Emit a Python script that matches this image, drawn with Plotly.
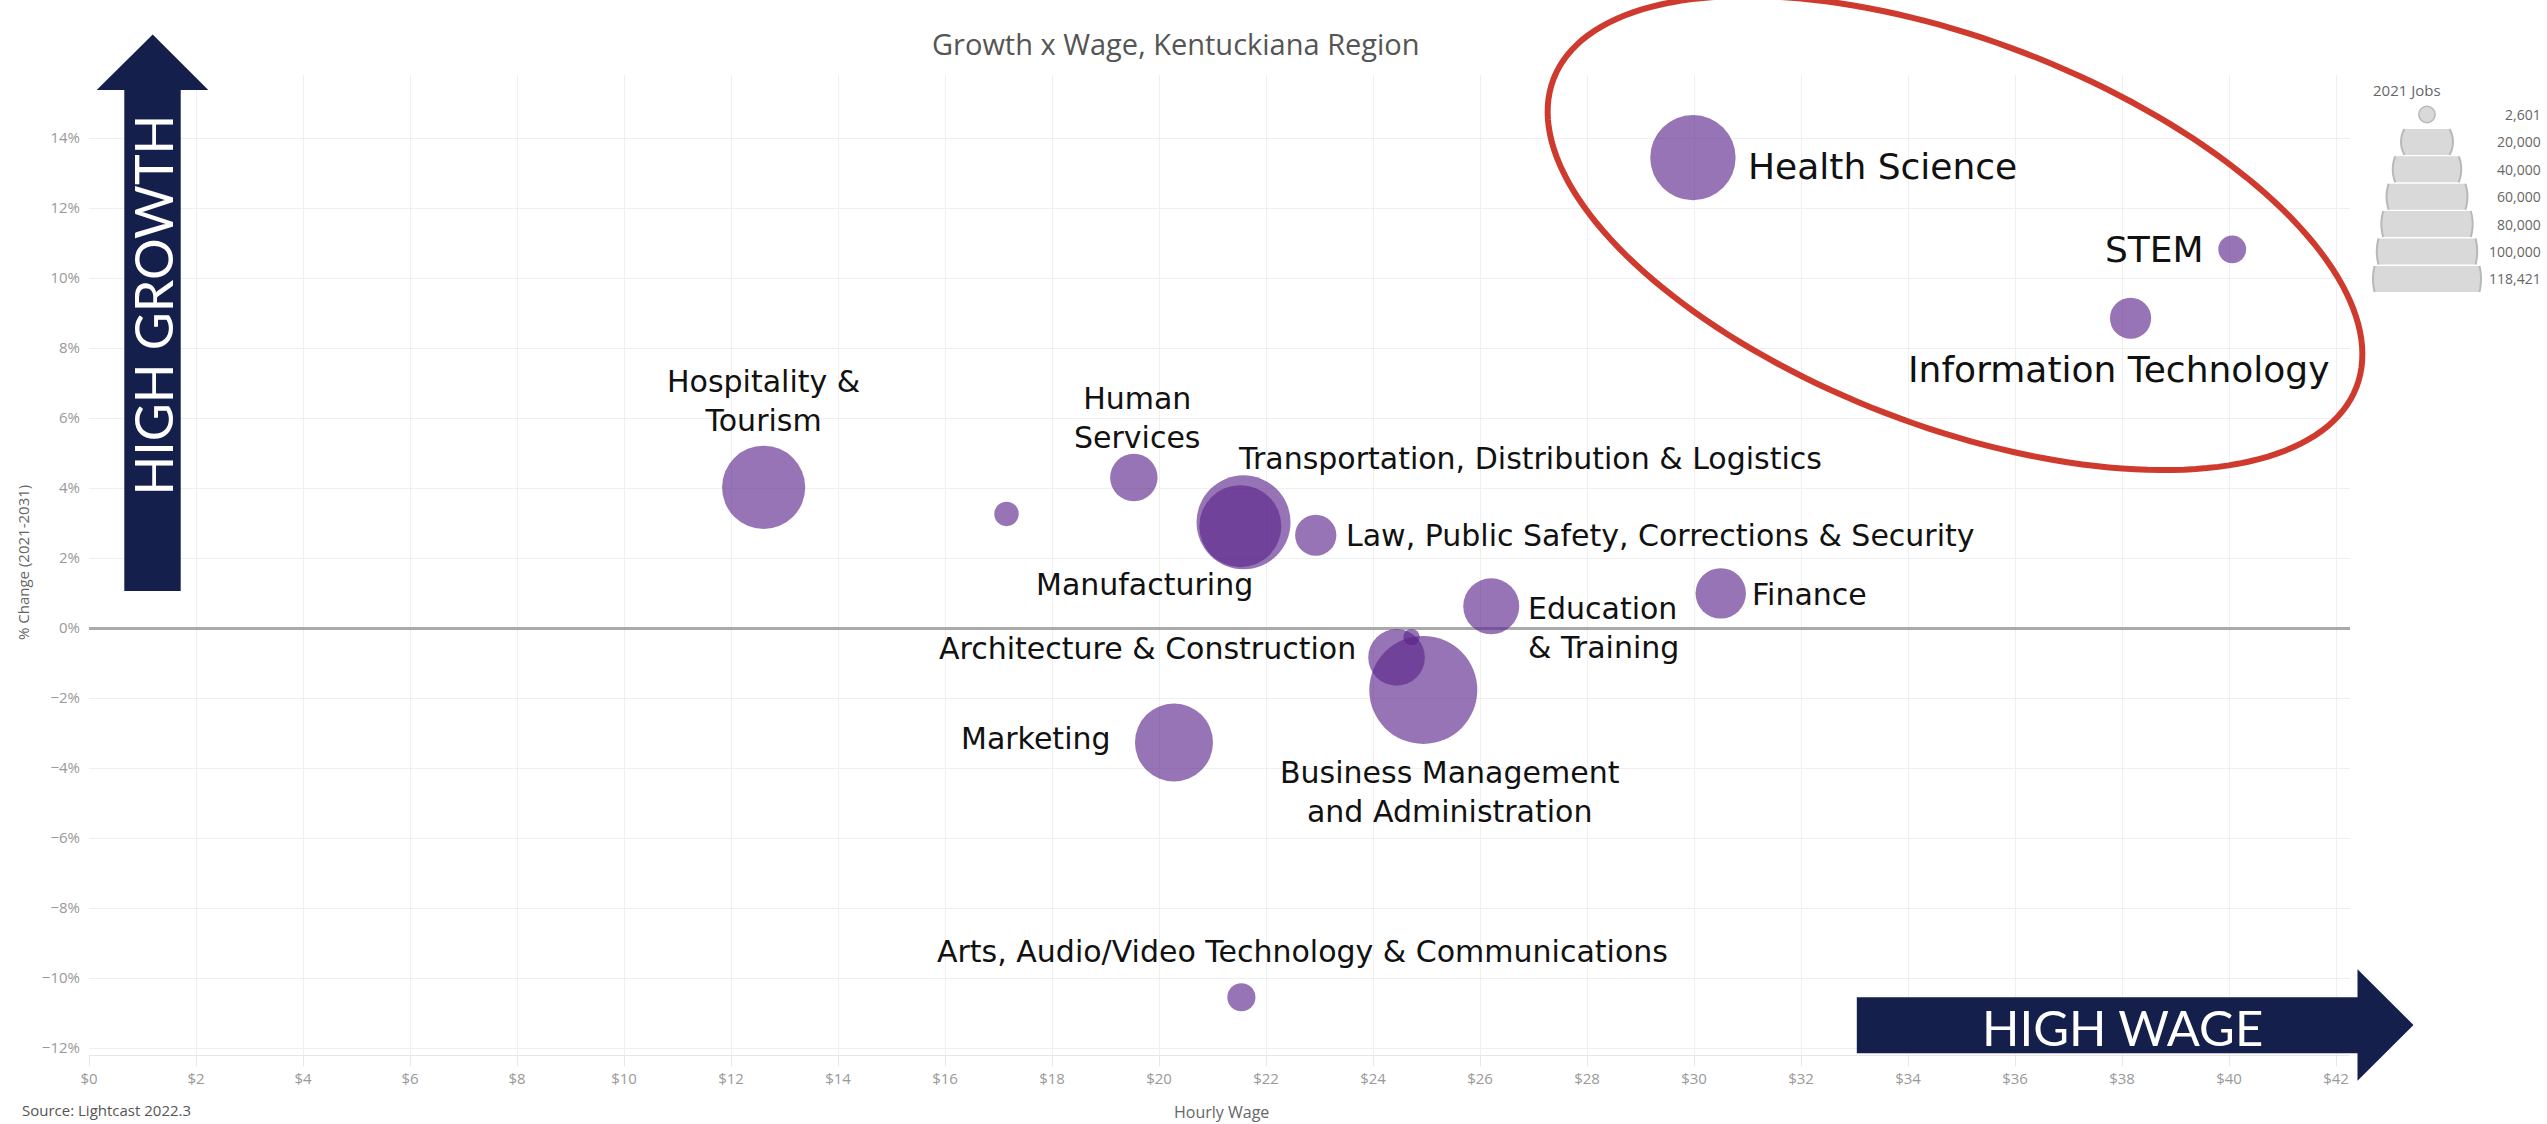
import numpy as np
import plotly.graph_objects as go

# ---------------- data ----------------
clusters = [
    "Health Science", "STEM", "Information Technology", "Hospitality & Tourism",
    "Agriculture, Food & Natural Resources", "Human Services",
    "Transportation, Distribution & Logistics", "Manufacturing",
    "Law, Public Safety, Corrections & Security", "Education & Training", "Finance",
    "Architecture & Construction", "Government & Public Administration",
    "Business Management and Administration", "Marketing",
    "Arts, Audio/Video Technology & Communications",
]
hourly_wage = [29.98, 40.06, 38.16, 12.61, 17.15, 19.53, 21.58, 21.52, 22.93,
               26.21, 30.50, 24.44, 24.72, 24.94, 20.28, 21.54]
pct_change = [13.44, 10.82, 8.85, 4.02, 3.26, 4.30, 3.02, 2.91, 2.65,
              0.62, 0.99, -0.84, -0.26, -1.77, -3.27, -10.55]
jobs_2021 = [68300, 4400, 11100, 64200, 3500, 15900, 85700, 62000, 11100,
             24200, 18600, 24900, 2601, 118421, 55000, 4500]

legend_values = [2601, 20000, 40000, 60000, 80000, 100000, 118421]
x_ticks = list(range(0, 43, 2))
x_tick_text = [f"${v}" for v in x_ticks]

# ---------------- label styling (offsets in px from bubble centre) ----------------
LBL_FONT = "DejaVu Sans"
BIG, SMALL = 36, 30
label_style = {
    "Health Science": dict(text="Health Science", xanchor="left", xs=53, ys=-9, size=BIG),
    "STEM": dict(text="STEM", xanchor="right", xs=-26, ys=0, size=BIG),
    "Information Technology": dict(text="Information Technology", xanchor="center", xs=-12, ys=-51, size=BIG),
    "Hospitality & Tourism": dict(text="Hospitality &<br>Tourism", xanchor="center", xs=0, ys=86, size=SMALL),
    "Human Services": dict(text="Human<br>Services", xanchor="center", xs=4, ys=60, size=SMALL),
    "Transportation, Distribution & Logistics": dict(text="Transportation, Distribution & Logistics", xanchor="left", xs=-8, ys=64, size=SMALL),
    "Manufacturing": dict(text="Manufacturing", xanchor="center", xs=-96, ys=-58, size=SMALL),
    "Law, Public Safety, Corrections & Security": dict(text="Law, Public Safety, Corrections & Security", xanchor="left", xs=28, ys=0, size=SMALL),
    "Education & Training": dict(text="Education<br>& Training", xanchor="left", xs=35, ys=-22, size=SMALL, align="left"),
    "Finance": dict(text="Finance", xanchor="left", xs=29, ys=-1, size=SMALL),
    "Architecture & Construction": dict(text="Architecture & Construction", xanchor="right", xs=-39, ys=9, size=SMALL),
    "Business Management and Administration": dict(text="Business Management<br>and Administration", xanchor="center", xs=27, ys=-102, size=SMALL),
    "Marketing": dict(text="Marketing", xanchor="right", xs=-61, ys=4, size=SMALL),
    "Arts, Audio/Video Technology & Communications": dict(text="Arts, Audio/Video Technology & Communications", xanchor="center", xs=61, ys=46, size=SMALL),
}

# ---------------- geometry ----------------
W, H = 2547, 1124
ML, MR, MT, MB = 89, 197, 75, 69
PW, PH = W - ML - MR, H - MT - MB
X_MAX = PW / 53.5
Y_MIN, Y_MAX = -12.2, -12.2 + PH / 35.0


def px(x):
    return (x - ML) / PW


def py(y):
    return (H - MB - y) / PH


MIN_D, MAX_D = 16.4, 108.0
zmin, zmax = min(jobs_2021), max(jobs_2021)


def diam(z):
    return MIN_D + (MAX_D - MIN_D) * np.sqrt((z - zmin) / (zmax - zmin))


sizes = [diam(z) for z in jobs_2021]

fig = go.Figure()
fig.add_trace(go.Scatter(
    x=hourly_wage, y=pct_change, mode="markers", text=clusters,
    marker=dict(size=sizes, sizemode="diameter", color="rgb(90,37,140)",
                opacity=0.64, line=dict(width=0)),
    hovertemplate="%{text}<br>$%{x:.2f}<br>%{y:.1f}%<extra></extra>",
))

annotations = []
for name, xv, yv in zip(clusters, hourly_wage, pct_change):
    if name not in label_style:
        continue
    s = label_style[name]
    annotations.append(dict(
        x=xv, y=yv, xref="x", yref="y", text=s["text"], showarrow=False,
        xanchor=s["xanchor"], yanchor="middle", xshift=s["xs"], yshift=s["ys"],
        align=s.get("align", "center"),
        font=dict(family=LBL_FONT, size=s["size"], color="#111111"),
    ))

# title, axis titles, source
annotations += [
    dict(x=px(1176), y=py(43), xref="paper", yref="paper", text="Growth x Wage, Kentuckiana Region",
         showarrow=False, font=dict(family="Open Sans", size=29, color="#555555"),
         xanchor="center", yanchor="middle"),
    dict(x=px(23), y=py(563), xref="paper", yref="paper", text="% Change (2021-2031)",
         showarrow=False, textangle=-90, font=dict(family="Open Sans", size=15, color="#666666"),
         xanchor="center", yanchor="middle"),
    dict(x=px(1221), y=py(1112), xref="paper", yref="paper", text="Hourly Wage",
         showarrow=False, font=dict(family="Open Sans", size=16, color="#666666"),
         xanchor="center", yanchor="middle"),
    dict(x=px(20), y=py(1110), xref="paper", yref="paper", text="Source: Lightcast 2022.3",
         showarrow=False, font=dict(family="Open Sans", size=15, color="#555555"),
         xanchor="left", yanchor="middle"),
]

shapes = []
NAVY = "#151f4b"


def poly(points):
    return "M " + " L ".join(f"{px(a):.5f},{py(b):.5f}" for a, b in points) + " Z"


# HIGH GROWTH arrow
growth_arrow = [(124.3, 591), (124.3, 90), (96.7, 90), (152.7, 34.5), (208.3, 90), (180.7, 90), (180.7, 591)]
shapes.append(dict(type="path", xref="paper", yref="paper", path=poly(growth_arrow),
                   fillcolor=NAVY, line=dict(width=0), layer="above"))
annotations.append(dict(x=px(152.5), y=py(305), xref="paper", yref="paper", text="HIGH GROWTH",
                        showarrow=False, textangle=-90, xanchor="center", yanchor="middle",
                        font=dict(family="Lato", size=52, color="white")))
# HIGH WAGE arrow
wage_arrow = [(1856.8, 997.3), (2357.5, 997.3), (2357.5, 969.3), (2413.5, 1025), (2357.5, 1080.7), (2357.5, 1053.3), (1856.8, 1053.3)]
shapes.append(dict(type="path", xref="paper", yref="paper", path=poly(wage_arrow),
                   fillcolor=NAVY, line=dict(width=0), layer="above"))
annotations.append(dict(x=px(2122), y=py(1027), xref="paper", yref="paper", text="HIGH WAGE",
                        showarrow=False, xanchor="center", yanchor="middle",
                        font=dict(family="Lato", size=49, color="white")))

# red highlight ellipse
cx, cy, ea, eb, th = 1955, 233, 430, 193, np.radians(21)
t = np.linspace(0, 2 * np.pi, 181)
ex = cx + ea * np.cos(t) * np.cos(th) - eb * np.sin(t) * np.sin(th)
ey = cy + ea * np.cos(t) * np.sin(th) + eb * np.sin(t) * np.cos(th)
shapes.append(dict(type="path", xref="paper", yref="paper",
                   path=poly(list(zip(ex, ey))), line=dict(color="#cf3a2e", width=6),
                   fillcolor="rgba(0,0,0,0)", layer="above"))

# bubble-size legend
LCX = 2427
annotations.append(dict(x=px(2407), y=py(90), xref="paper", yref="paper", text="2021 Jobs",
                        showarrow=False, xanchor="center", yanchor="middle",
                        font=dict(family="Open Sans", size=15, color="#666666")))
for i, v in enumerate(legend_values):
    yc = 114.5 + 27.4 * i
    r = diam(v) / 2
    hh = 13.0
    if r <= hh:
        shapes.append(dict(type="circle", xref="paper", yref="paper",
                           x0=px(LCX - r), x1=px(LCX + r), y0=py(yc + r), y1=py(yc - r),
                           fillcolor="#d9d9d9", line=dict(color="#b8b8b8", width=1.5)))
    else:
        dys = np.linspace(-hh, hh, 25)
        right = [(LCX + np.sqrt(r * r - d * d), yc + d) for d in dys]
        left = [(LCX - np.sqrt(r * r - d * d), yc + d) for d in dys[::-1]]
        shapes.append(dict(type="path", xref="paper", yref="paper", path=poly(right + left),
                           fillcolor="#d9d9d9", line=dict(width=0)))
        for side in (right, left):
            shapes.append(dict(type="path", xref="paper", yref="paper",
                               path="M " + " L ".join(f"{px(a):.5f},{py(b):.5f}" for a, b in side),
                               line=dict(color="#b8b8b8", width=2)))
    annotations.append(dict(x=px(2543), y=py(yc), xref="paper", yref="paper",
                            text=f"{v:,}", showarrow=False, xanchor="right", yanchor="middle",
                            font=dict(family="Open Sans", size=14, color="#666666")))

fig.update_layout(
    width=W, height=H,
    margin=dict(l=ML, r=MR, t=MT, b=MB, autoexpand=False),
    plot_bgcolor="white", paper_bgcolor="white", showlegend=False,
    shapes=shapes, annotations=annotations,
    xaxis=dict(range=[0, X_MAX], tickvals=x_ticks, ticktext=x_tick_text, showgrid=True,
               gridcolor="#efefef", gridwidth=1, zeroline=False, showline=True,
               linecolor="#e6e6e6", ticks="outside", ticklen=10, tickcolor="#e6e6e6",
               tickfont=dict(family="Open Sans", size=15, color="#999999")),
    yaxis=dict(range=[Y_MIN, Y_MAX], dtick=2, tick0=0, ticksuffix="%", showgrid=True,
               gridcolor="#efefef", gridwidth=1, zeroline=True, zerolinecolor="#aaaaaa",
               zerolinewidth=3, ticks="", ticklabelstandoff=8,
               tickfont=dict(family="Open Sans", size=15, color="#999999")),
)

fig.write_html("out.html", config={"displayModeBar": False},
               post_script="document.body.style.margin='0';document.body.style.overflow='hidden';")
